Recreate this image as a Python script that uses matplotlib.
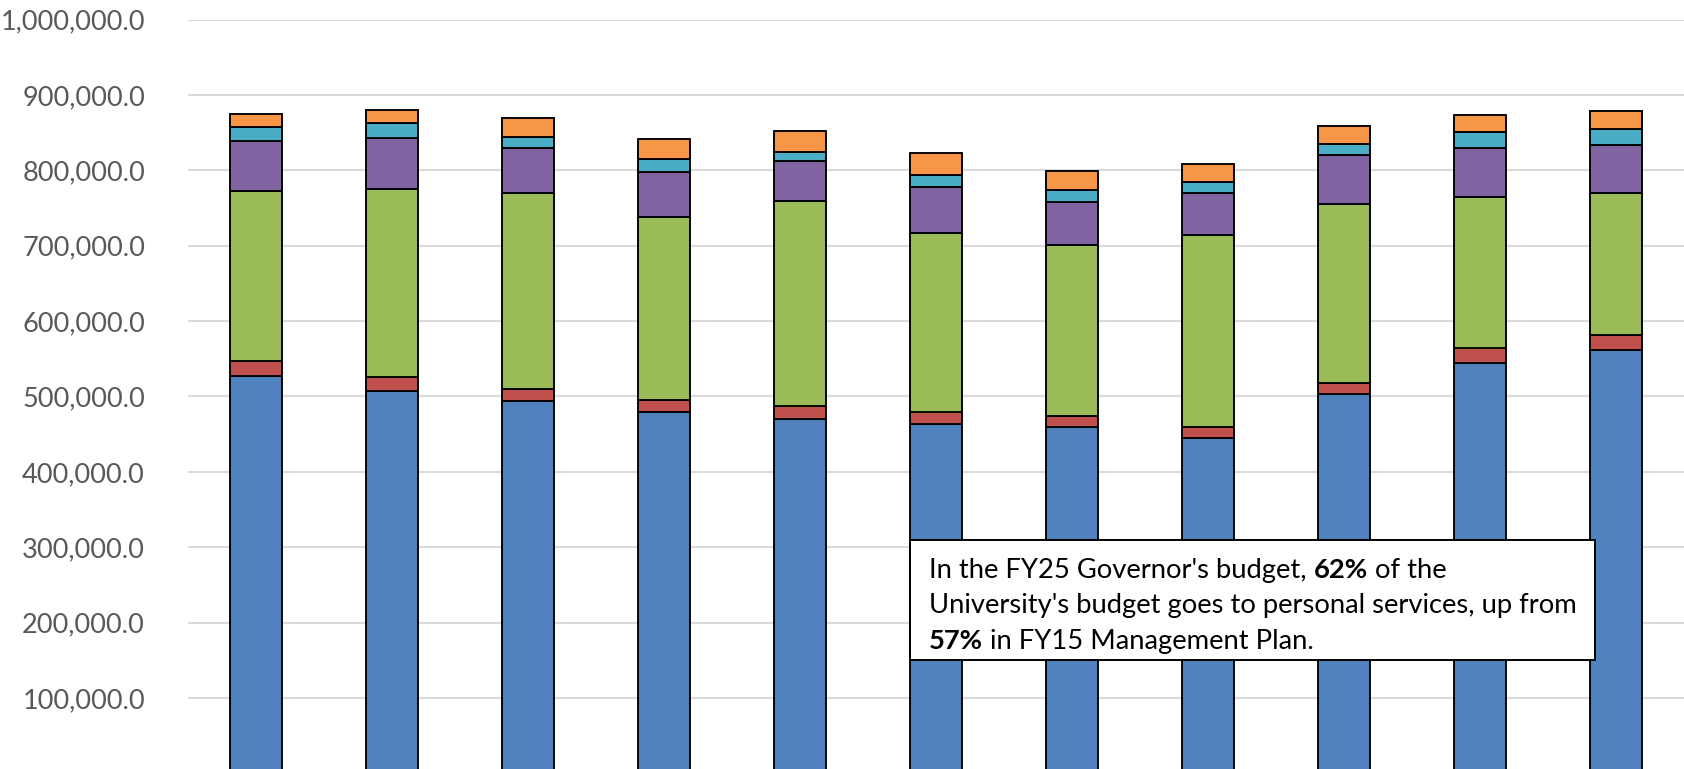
import matplotlib
matplotlib.use("Agg")
import matplotlib.pyplot as plt
from matplotlib.offsetbox import TextArea, HPacker, VPacker, AnchoredOffsetbox
from matplotlib.patches import Rectangle
from matplotlib.ticker import FuncFormatter
import numpy as np

categories = ["FY15", "FY16", "FY17", "FY18", "FY19", "FY20", "FY21", "FY22", "FY23", "FY24", "FY25"]

personal_services = [527400, 507500, 493800, 479700, 470400, 463300, 459800, 445200, 503500, 544600, 561400]
series_red = [19500, 18600, 16300, 15900, 16800, 15900, 14600, 14600, 14600, 19100, 19500]
series_green = [225400, 249300, 259100, 242600, 271400, 237800, 226300, 253700, 236900, 201000, 188400]
series_purple = [66700, 66800, 60500, 59700, 53100, 61000, 56600, 56200, 64600, 64200, 64000]
series_cyan = [18600, 20700, 14600, 16400, 12300, 16000, 16700, 14100, 15900, 21300, 21600]
series_orange = [16800, 16800, 25200, 26900, 27900, 28300, 24400, 24800, 23000, 22500, 23900]

y_ticks = [100000, 200000, 300000, 400000, 500000, 600000, 700000, 800000, 900000, 1000000]

series = [personal_services, series_red, series_green, series_purple, series_cyan, series_orange]
colors = ["#4F81BD", "#C0504D", "#9BBB59", "#8064A2", "#4BACC6", "#F79646"]

W, H = 1684, 769
fig = plt.figure(figsize=(W / 100, H / 100), dpi=100)
ax = fig.add_axes([188 / W, 0, 1 - 188 / W, 1 - 19.5 / H])

x = np.arange(len(categories))
bottom = np.zeros(len(categories))
for vals, c in zip(series, colors):
    ax.bar(x, vals, width=0.386, bottom=bottom, color=c, edgecolor="black",
           linewidth=1.35, zorder=3)
    bottom += np.array(vals)

ax.set_xlim(-0.5, len(categories) - 0.5)
ax.set_ylim(5800, 1000000)
ax.set_yticks(y_ticks)
ax.yaxis.set_major_formatter(FuncFormatter(lambda v, p: f"{v:,.1f}"))
ax.set_xticks([])
for s in ax.spines.values():
    s.set_visible(False)
ax.tick_params(axis="y", length=0, pad=31, labelsize=19.5, labelcolor="#595959")
for lab in ax.get_yticklabels():
    lab.set_fontfamily("Lato")
ax.grid(axis="y", color="#D9D9D9", linewidth=1.4, zorder=0)
ax.set_axisbelow(True)

# annotation box
rect = Rectangle((910 / W, 1 - 659.5 / H), (1595 - 910) / W, (659.5 - 540) / H,
                 transform=fig.transFigure, facecolor="white", edgecolor="black",
                 linewidth=1.4, zorder=5)
fig.add_artist(rect)

fs = 19.7
fam = "Lato"
def ta(t, bold=False):
    return TextArea(t, textprops=dict(fontsize=fs, family=fam,
                                      fontweight="bold" if bold else "normal",
                                      color="black"))

line1 = HPacker(children=[ta("In the FY25 Governor's budget, "), ta("62%", True), ta(" of the")],
                pad=0, sep=0, align="baseline")
line2 = HPacker(children=[ta("University's budget goes to personal services, up from")],
                pad=0, sep=0, align="baseline")
line3 = HPacker(children=[ta("57%", True), ta(" in FY15 Management Plan.")],
                pad=0, sep=0, align="baseline")
box = VPacker(children=[line1, line2, line3], pad=0, sep=7.5, align="left")

anch = AnchoredOffsetbox(loc="upper left", child=box, pad=0, borderpad=0,
                         bbox_to_anchor=(929 / W, 1 - 558 / H),
                         bbox_transform=fig.transFigure, frameon=False)
anch.set_zorder(6)
fig.add_artist(anch)

fig.savefig("out.png", dpi=100)
